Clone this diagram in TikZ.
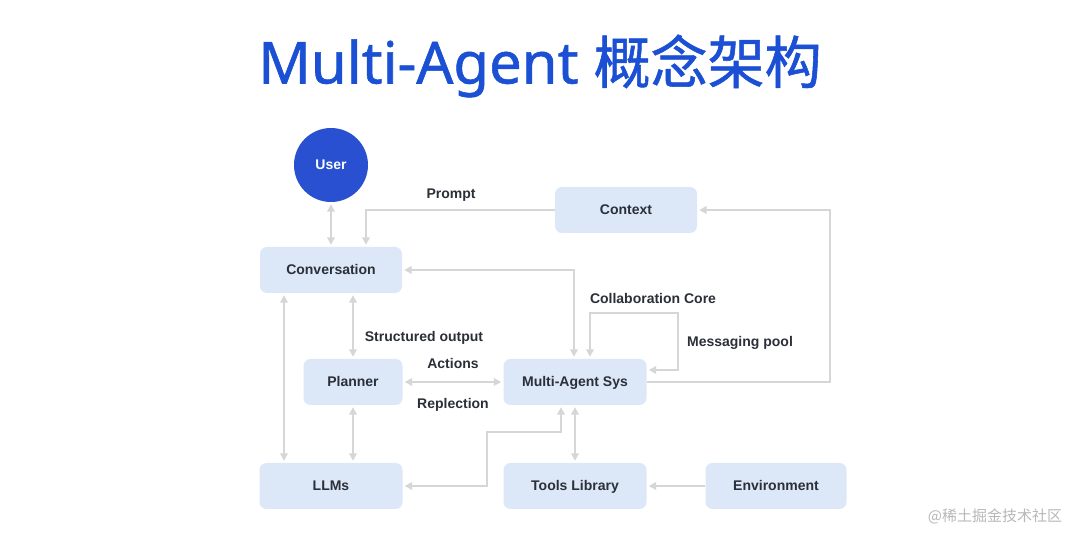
\documentclass[tikz,border=0pt]{standalone}
\usepackage{fontspec}
\setmainfont{Liberation Sans}
\newfontfamily\cjk{Noto Sans CJK SC}
\newfontfamily\titlelat{Noto Sans}[FakeBold=1.0]
\newfontfamily\titlecjk{Noto Sans CJK SC}[FakeBold=1.0]
\usetikzlibrary{arrows.meta}
\definecolor{titleblue}{HTML}{1B50D4}
\definecolor{userblue}{HTML}{2850D0}
\definecolor{boxfill}{HTML}{DCE8F8}
\definecolor{linegray}{HTML}{D6D6D6}
\definecolor{txt}{HTML}{2B2F38}
\definecolor{wm}{HTML}{B8B8B8}
\begin{document}
\begin{tikzpicture}[x=1pt,y=-1pt,
  box/.style={fill=boxfill, rounded corners=7pt, minimum height=46pt, inner sep=0pt,
    font=\bfseries\fontsize{14}{16}\selectfont, text=txt, text height=10pt, text depth=0pt},
  lbl/.style={font=\bfseries\fontsize{14}{16}\selectfont, text=txt, inner sep=0pt, text height=10pt, text depth=0pt},
  conn/.style={draw=linegray, line width=1.8pt, -{Triangle[length=7.5pt,width=7.5pt]}, shorten >=2pt},
  conn2/.style={draw=linegray, line width=1.8pt, {Triangle[length=7.5pt,width=7.5pt]}-{Triangle[length=7.5pt,width=7.5pt]}, shorten >=2pt, shorten <=2pt}
]
\useasboundingbox[fill=white] (0,0) rectangle (1080,534);

\node[text=titleblue, inner sep=0pt] (title) at (540,66)
  {\titlelat\fontsize{58}{64}\selectfont Multi-Agent \titlecjk\fontsize{57}{64}\selectfont 概念架构};

\node[circle, fill=userblue, minimum size=74pt, inner sep=0pt, text=white,
  font=\bfseries\fontsize{14}{16}\selectfont, text height=10pt, text depth=0pt] (user) at (331,165) {User};

\node[box, minimum width=142pt] (ctx) at (626,210) {Context};
\node[box, minimum width=142pt] (conv) at (331,270) {Conversation};
\node[box, minimum width=99pt] (plan) at (353,382) {Planner};
\node[box, minimum width=143pt] (mas) at (575,382) {Multi-Agent Sys};
\node[box, minimum width=143pt] (llm) at (331,486) {LLMs};
\node[box, minimum width=143pt] (tools) at (575,486) {Tools Library};
\node[box, minimum width=141pt] (env) at (776,486) {Environment};

\node[lbl] (lprompt) at (451,194) {Prompt};
\node[lbl] (lcollab) at (653,299) {Collaboration Core};
\node[lbl] (lmsg) at (740,342) {Messaging pool};
\node[lbl] (lstruct) at (424,337) {Structured output};
\node[lbl] (lact) at (453,364) {Actions};
\node[lbl] (lrep) at (453,404) {Replection};

\node[font=\cjk\fontsize{15}{17}\selectfont, text=wm, inner sep=0pt] (wmark) at (995,516) {@稀土掘金技术社区};

% connectors
\draw[conn2] (user.south) -- (conv.north);
\draw[conn] (ctx.west) -| ([xshift=35pt]conv.north);
\draw[conn2] ([xshift=-1pt]mas.north) |- (conv.east);
\coordinate (cc1) at (590,313);
\coordinate (cc2) at (678,313);
\draw[conn2] ([xshift=15pt]mas.north) -- (cc1) -- (cc2) |- ([yshift=12pt]mas.east);
\coordinate (mc) at (830,382);
\draw[conn] (mas.east) -- (mc) |- (ctx.east);
\draw[conn2] (plan.north) -- (plan.north |- conv.south);
\draw[conn2] ([xshift=-47pt]conv.south) -- ([xshift=-47pt]llm.north);
\draw[conn2] (plan.south) -- (plan.south |- llm.north);
\draw[conn2] (plan.east) -- (mas.west);
\coordinate (ml1) at (561,432);
\coordinate (ml2) at (487,432);
\draw[conn2] ([xshift=-14pt]mas.south) -- (ml1) -- (ml2) |- (llm.east);
\draw[conn2] (mas.south) -- (tools.north);
\draw[conn] (env.west) -- (tools.east);
\end{tikzpicture}
\end{document}
